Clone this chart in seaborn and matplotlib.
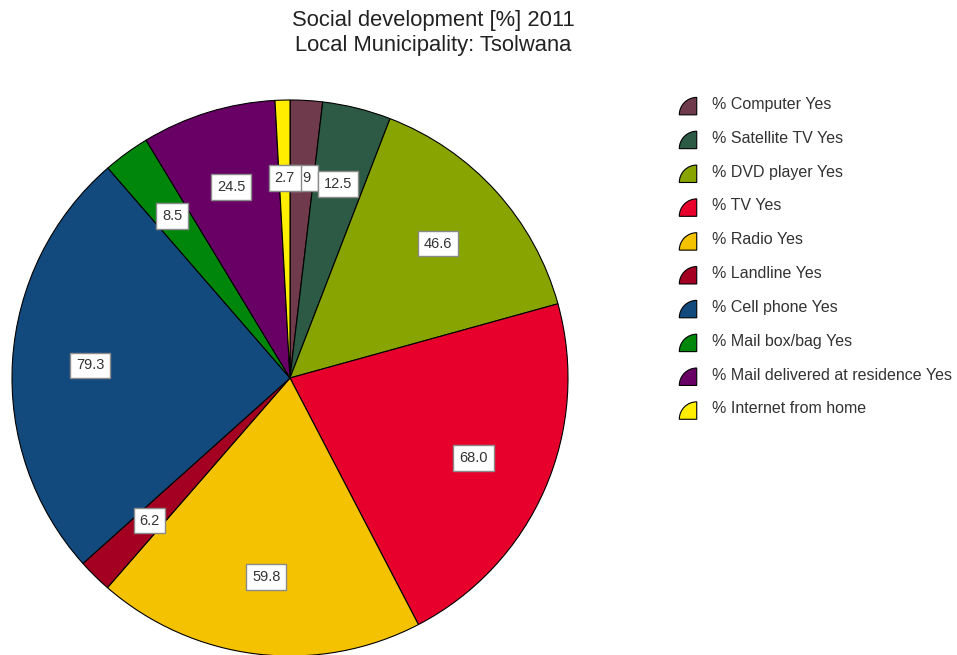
import matplotlib
matplotlib.use("Agg")
import matplotlib.pyplot as plt
from matplotlib.patches import Wedge
from matplotlib.legend_handler import HandlerBase
import seaborn as sns

sns.set_theme(style="white")
plt.rcParams['font.family'] = ['Liberation Sans', 'DejaVu Sans']

categories = [
    "% Computer Yes",
    "% Satellite TV Yes",
    "% DVD player Yes",
    "% TV Yes",
    "% Radio Yes",
    "% Landline Yes",
    "% Cell phone Yes",
    "% Mail box/bag Yes",
    "% Mail delivered at residence Yes",
    "% Internet from home",
]
values = [5.9, 12.5, 46.6, 68.0, 59.8, 6.2, 79.3, 8.5, 24.5, 2.7]
colors = [
    "#6F3A4B", "#2C5A44", "#88A400", "#E8002D", "#F5C200",
    "#A30022", "#134A7D", "#00870B", "#690066", "#FFEE00",
]

total = sum(values)

fig = plt.figure(figsize=(9.57, 6.55), dpi=100)
cx, cy, r = 290, 378, 278
ax = fig.add_axes([(cx - r) / 957, (655 - cy - r) / 655, 2 * r / 957, 2 * r / 655])

wedges, texts, autotexts = ax.pie(
    values,
    colors=colors,
    startangle=90,
    counterclock=False,
    autopct=lambda p: f"{p * total / 100:.1f}",
    pctdistance=0.72,
    wedgeprops=dict(edgecolor="black", linewidth=0.8),
    textprops=dict(fontsize=10.5, color="#333333"),
)
for t in autotexts:
    t.set_bbox(dict(boxstyle="square,pad=0.4", facecolor="white", edgecolor="#8a8a8a", linewidth=1.0))
ax.set_xlim(-1, 1)
ax.set_ylim(-1, 1)
ax.set_aspect("equal")
ax.axis("off")

fig.text(433 / 957, 1 - 33 / 655, "Social development [%] 2011\nLocal Municipality: Tsolwana",
         ha="center", va="center", fontsize=15.8, color="#222222", linespacing=1.2)


class HandlerQuarter(HandlerBase):
    def create_artists(self, legend, orig_handle, xdescent, ydescent, width, height, fontsize, trans):
        s = height * 1.22
        w = Wedge((-xdescent + s - 1.5, -ydescent - 3), s, 90, 180,
                  facecolor=orig_handle.get_facecolor(), edgecolor="black",
                  linewidth=0.8, transform=trans)
        return [w]


fig.legend(wedges, categories, loc="upper left", bbox_to_anchor=(667 / 957, 1 - 82 / 655),
           frameon=False, fontsize=11.5, labelspacing=1.14, handlelength=1.2, handleheight=1.0,
           handletextpad=0.74, labelcolor="#333333", handler_map={Wedge: HandlerQuarter()})

fig.savefig("out.png", dpi=100, facecolor="white")
